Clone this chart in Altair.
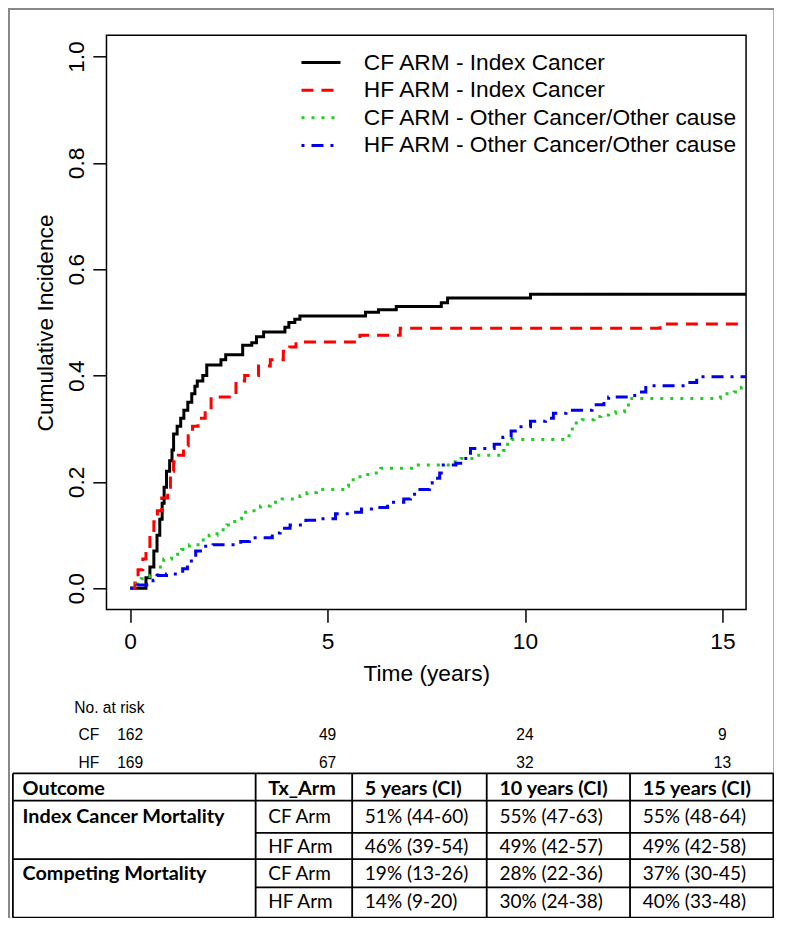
import altair as alt
import pandas as pd

# ---------------- data ----------------
series_names = ["CF ARM - Index Cancer", "HF ARM - Index Cancer",
                "CF ARM - Other Cancer/Other cause", "HF ARM - Other Cancer/Other cause"]

cf_index_t = [0, 0.40, 0.50, 0.60, 0.68, 0.75, 0.81, 0.86, 0.92, 1.00, 1.06, 1.10, 1.19, 1.28,
              1.36, 1.46, 1.56, 1.64, 1.70, 1.84, 1.94, 2.30, 2.42, 2.85, 3.08, 3.20, 3.38, 3.92,
              4.02, 4.17, 4.30, 5.96, 6.29, 6.74, 7.88, 8.04, 10.14, 15.6]
cf_index_v = [0, 0.02, 0.04, 0.07, 0.10, 0.13, 0.16, 0.19, 0.22, 0.24, 0.26, 0.29, 0.305, 0.32,
              0.335, 0.35, 0.366, 0.38, 0.39, 0.40, 0.42, 0.43, 0.439, 0.457, 0.462, 0.473, 0.482, 0.491,
              0.50, 0.506, 0.512, 0.519, 0.524, 0.530, 0.537, 0.546, 0.553, 0.553]

hf_index_t = [0, 0.12, 0.20, 0.32, 0.40, 0.50, 0.60, 0.69, 0.80, 0.95, 1.02, 1.10, 1.22, 1.35,
              1.47, 1.58, 1.72, 1.90, 2.05, 2.68, 2.90, 3.25, 3.55, 3.88, 4.04, 4.20, 5.82, 6.84,
              13.42, 15.6]
hf_index_v = [0, 0.01, 0.035, 0.055, 0.075, 0.10, 0.125, 0.146, 0.17, 0.19, 0.22, 0.238, 0.25, 0.268,
              0.287, 0.305, 0.32, 0.335, 0.36, 0.39, 0.40, 0.418, 0.43, 0.446, 0.454, 0.463, 0.476, 0.489,
              0.497, 0.497]

cf_other_t = [0, 0.15, 0.28, 0.50, 0.70, 0.85, 1.05, 1.30, 1.50, 1.78, 2.00, 2.20, 2.45, 2.65,
              2.82, 3.05, 3.30, 3.55, 3.85, 4.30, 4.48, 4.72, 5.45, 5.53, 5.75, 6.02, 6.35, 7.20,
              8.15, 8.38, 8.70, 9.45, 9.56, 9.66, 11.05, 11.20, 11.45, 11.75, 11.92, 12.12, 12.30,
              12.52, 12.62, 14.95, 15.30, 15.48, 15.58, 15.6]
cf_other_v = [0, 0.008, 0.018, 0.024, 0.04, 0.055, 0.064, 0.073, 0.082, 0.091, 0.10, 0.11, 0.119, 0.131,
              0.143, 0.146, 0.155, 0.162, 0.168, 0.174, 0.18, 0.186, 0.192, 0.204, 0.21, 0.217, 0.226, 0.232,
              0.238, 0.244, 0.25, 0.259, 0.274, 0.28, 0.287, 0.311, 0.317, 0.323, 0.326, 0.329, 0.332,
              0.341, 0.357, 0.366, 0.369, 0.378, 0.384, 0.384]

hf_other_t = [0, 0.18, 0.42, 0.58, 0.68, 0.92, 1.33, 1.45, 1.55, 1.66, 1.78, 2.10, 2.80, 3.02,
              3.60, 3.80, 4.05, 4.45, 4.80, 5.20, 5.60, 5.86, 6.20, 6.52, 6.62, 6.93, 7.10, 7.34,
              7.58, 7.65, 7.84, 7.93, 8.25, 8.42, 8.50, 8.62, 9.22, 9.44, 9.65, 9.90, 10.14, 10.52,
              10.72, 11.04, 11.70, 12.00, 12.12, 12.78, 13.06, 14.13, 14.35, 15.6]
hf_other_v = [0, 0.006, 0.008, 0.015, 0.024, 0.027, 0.037, 0.046, 0.058, 0.07, 0.079, 0.082, 0.088, 0.095,
              0.104, 0.113, 0.119, 0.128, 0.131, 0.14, 0.143, 0.149, 0.152, 0.158, 0.162, 0.168, 0.177, 0.186,
              0.198, 0.207, 0.217, 0.232, 0.235, 0.244, 0.25, 0.263, 0.271, 0.284, 0.296, 0.304, 0.314, 0.32,
              0.329, 0.335, 0.345, 0.354, 0.36, 0.369, 0.381, 0.387, 0.398, 0.398]

x_ticks = [0, 5, 10, 15]
y_ticks = [0.0, 0.2, 0.4, 0.6, 0.8, 1.0]

risk_times = [0, 5, 10, 15]
risk_cf = [162, 49, 24, 9]
risk_hf = [169, 67, 32, 13]

tbl_header = ["Outcome", "Tx_Arm", "5 years (CI)", "10 years (CI)", "15 years (CI)"]
tbl_outcome = ["Index Cancer Mortality", "", "Competing Mortality", ""]
tbl_arm = ["CF Arm", "HF Arm", "CF Arm", "HF Arm"]
tbl_5y = ["51% (44-60)", "46% (39-54)", "19% (13-26)", "14% (9-20)"]
tbl_10y = ["55% (47-63)", "49% (42-57)", "28% (22-36)", "30% (24-38)"]
tbl_15y = ["55% (48-64)", "49% (42-58)", "37% (30-45)", "40% (33-48)"]

# ---------------- layout ----------------
S = 0.975
REF_L, REF_T, REF_R, REF_B = 101, 28, 757, 617
W = S * (REF_R - REF_L)
H = S * (REF_B - REF_T)


def ix(rx):
    return S * (rx - REF_L)


def iy(ry):
    return S * (ry - REF_T)


FONT = "Liberation Sans"
TFONT = "Lato"
FS = 23.3 * S

# curves table
rows = []
for name, ts, vs in zip(series_names,
                        [cf_index_t, hf_index_t, cf_other_t, hf_other_t],
                        [cf_index_v, hf_index_v, cf_other_v, hf_other_v]):
    for i, (t, v) in enumerate(zip(ts, vs)):
        rows.append({"series": name, "t": t, "v": v, "i": i})
curves = pd.DataFrame(rows)

x_scale = alt.Scale(domain=[-0.6, 15.6], nice=False, zero=False)
y_scale = alt.Scale(domain=[-0.04, 1.04], nice=False, zero=False)
color_scale = alt.Scale(domain=series_names, range=["#000000", "#FF0000", "#22CC22", "#0000EE"])
dash_scale = alt.Scale(domain=series_names, range=[[1, 0], [12, 8], [3, 7], [3, 7, 12, 7]])

lines = alt.Chart(curves).mark_line(interpolate="step-after", strokeWidth=3, clip=True).encode(
    x=alt.X("t:Q", scale=x_scale,
            axis=alt.Axis(values=x_ticks, title="Time (years)", domain=False, grid=False,
                          tickSize=13 * S, tickWidth=1.5, tickColor="black",
                          labelFont=FONT, labelFontSize=FS, labelColor="black", labelPadding=8,
                          labelOverlap=False, labelFlush=False,
                          titleFont=FONT, titleFontSize=FS, titleFontWeight="normal", titleColor="black",
                          titleBaseline="middle", titleY=S * 66)),
    y=alt.Y("v:Q", scale=y_scale,
            axis=alt.Axis(values=y_ticks, format=".1f", title="Cumulative Incidence", domain=False,
                          grid=False, tickSize=14 * S, tickWidth=1.5, tickColor="black",
                          labelFont=FONT, labelFontSize=FS, labelColor="black", labelAngle=270,
                          labelAlign="center", labelBaseline="middle", labelPadding=17 * S,
                          labelOverlap=False, labelFlush=False,
                          titleFont=FONT, titleFontSize=FS, titleFontWeight="normal", titleColor="black",
                          titleBaseline="middle", titleX=-S * 63, titleAngle=270)),
    color=alt.Color("series:N", scale=color_scale, legend=None),
    strokeDash=alt.StrokeDash("series:N", scale=dash_scale, legend=None),
    order="i:Q",
)

# legend drawn inside the plot (keys + labels)
leg_df = pd.DataFrame({"series": series_names})
leg_y = alt.Scale(type="point", domain=series_names, range=[iy(56), iy(141)], padding=0)
leg_keys = alt.Chart(leg_df).mark_rule(strokeWidth=3).encode(
    x=alt.value(ix(301)), x2=alt.value(ix(341)),
    y=alt.Y("series:N", scale=leg_y, axis=None),
    color=alt.Color("series:N", scale=color_scale, legend=None),
    strokeDash=alt.StrokeDash("series:N", scale=dash_scale, legend=None))
leg_labels = alt.Chart(leg_df).mark_text(font=FONT, fontSize=FS, align="left", baseline="middle",
                                         color="black").encode(
    x=alt.value(ix(365)), y=alt.Y("series:N", scale=leg_y, axis=None), text="series:N")

# outer figure border
one = pd.DataFrame({"a": [0]})
border = alt.Chart(one).mark_rect(fill=None, stroke="#888888", strokeWidth=2).encode(
    x=alt.value(ix(1)), x2=alt.value(ix(786)), y=alt.value(iy(1)), y2=alt.value(iy(934)))

# number at risk
RFS = 16 * S
risk_df = pd.DataFrame({"t": risk_times * 2, "n": risk_cf + risk_hf,
                        "arm": ["CF"] * 4 + ["HF"] * 4})
risk_y = alt.Scale(type="point", domain=["CF", "HF"], range=[iy(746), iy(774)], padding=0)
risk_text = alt.Chart(risk_df).mark_text(font=FONT, fontSize=RFS, baseline="middle",
                                         align="center", color="black").encode(
    x=alt.X("t:Q", scale=x_scale, axis=None),
    y=alt.Y("arm:N", scale=risk_y, axis=None),
    text="n:Q")
arm_lab = pd.DataFrame({"arm": ["CF", "HF"]})
risk_arm = alt.Chart(arm_lab).mark_text(font=FONT, fontSize=RFS, baseline="middle",
                                        align="center", color="black").encode(
    x=alt.value(ix(83)), y=alt.Y("arm:N", scale=risk_y, axis=None), text="arm:N")
risk_title = alt.Chart(pd.DataFrame({"s": ["No. at risk"]})).mark_text(
    font=FONT, fontSize=RFS, baseline="middle", align="left", color="black").encode(
    x=alt.value(ix(68)), y=alt.value(iy(718)), text="s:N")

# results table
col_edges = [5, 254, 353, 491, 638, 785]
row_edges = [785, 813, 846, 873, 902, 933]
row_centers = [801.5, 829.5, 861, 888, 917]
cells = []
for c, h in enumerate(tbl_header):
    cells.append({"txt": h, "px": ix(col_edges[c] + (10 if c == 0 else 13)), "py": iy(row_centers[0]),
                  "w": "bold"})
for r in range(4):
    vals = [tbl_outcome[r], tbl_arm[r], tbl_5y[r], tbl_10y[r], tbl_15y[r]]
    for c, v in enumerate(vals):
        if v == "":
            continue
        cells.append({"txt": v, "px": ix(col_edges[c] + (10 if c == 0 else 13)),
                      "py": iy(row_centers[r + 1]), "w": "bold" if c == 0 else "normal"})
cells = pd.DataFrame(cells)

tbl_text_bold = alt.Chart(cells[cells.w == "bold"]).mark_text(
    font=TFONT, fontSize=20.3 * S, fontWeight="bold", align="left", baseline="middle", color="black").encode(
    x=alt.X("px:Q", scale=None, axis=None), y=alt.Y("py:Q", scale=None, axis=None), text="txt:N")
tbl_text = alt.Chart(cells[cells.w == "normal"]).mark_text(
    font=TFONT, fontSize=19.5 * S, align="left", baseline="middle", color="black").encode(
    x=alt.X("px:Q", scale=None, axis=None), y=alt.Y("py:Q", scale=None, axis=None), text="txt:N")

segs = []
for k, ry in enumerate(row_edges):
    x0 = col_edges[1] if k in (2, 4) else col_edges[0]
    segs.append({"x1": ix(x0), "x2": ix(col_edges[-1]), "y1": iy(ry), "y2": iy(ry)})
for rx in col_edges:
    segs.append({"x1": ix(rx), "x2": ix(rx), "y1": iy(row_edges[0]), "y2": iy(row_edges[-1])})
segs = pd.DataFrame(segs)
tbl_lines = alt.Chart(segs).mark_rule(color="black", strokeWidth=1.8).encode(
    x=alt.X("x1:Q", scale=None, axis=None), x2="x2:Q",
    y=alt.Y("y1:Q", scale=None, axis=None), y2="y2:Q")

chart = alt.layer(border, lines, leg_keys, leg_labels, risk_text, risk_arm, risk_title,
                  tbl_lines, tbl_text_bold, tbl_text
                  ).resolve_scale(x="independent", y="independent").properties(
    width=W, height=H,
    autosize=alt.AutoSizeParams(type="none"),
    padding={"left": S * REF_L, "top": S * REF_T, "right": S * (787 - REF_R) - 1,
             "bottom": S * (935 - REF_B) - 2},
    background="white",
).configure_view(stroke="black", strokeWidth=1.5)

chart.save("out.html", embed_options={"renderer": "svg", "actions": False})
